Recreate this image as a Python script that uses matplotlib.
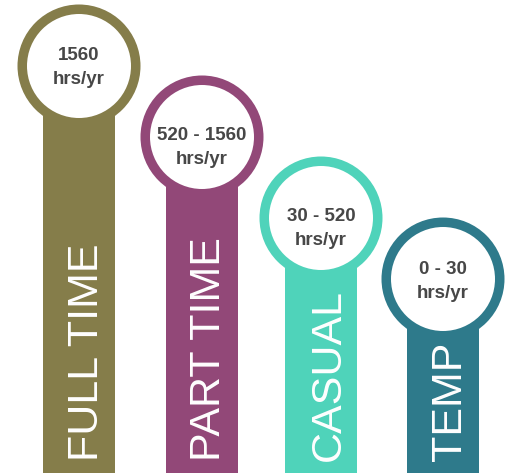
import matplotlib.pyplot as plt
from matplotlib.patches import Circle, Rectangle

# data
labels = ['FULL TIME', 'PART TIME', 'CASUAL', 'TEMP']
hours = ['1560', '520 - 1560', '30 - 520', '0 - 30']
units = ['hrs/yr', 'hrs/yr', 'hrs/yr', 'hrs/yr']
colors = ['#857d4a', '#924878', '#4fd3ba', '#2e7a8b']

# layout (pixels, y down)
W, H = 508, 473
col_x = [79, 202, 321, 443]
col_y = [66, 137, 218, 279]
text_dy = [1, 10, 10, 2]
R_OUT, R_IN, BAR_W = 61.5, 52, 72


def main():
    plt.rcParams['font.family'] = ['Liberation Sans', 'DejaVu Sans']
    fig = plt.figure(figsize=(W / 100, H / 100), dpi=100)
    ax = fig.add_axes([0, 0, 1, 1])
    ax.set_xlim(0, W)
    ax.set_ylim(H, 0)
    ax.axis('off')

    for i in range(len(labels)):
        cx, cy, c = col_x[i], col_y[i], colors[i]
        ax.add_patch(Rectangle((cx - BAR_W / 2, cy), BAR_W, H - cy + 5,
                               color=c, lw=0))
        ax.add_patch(Circle((cx, cy), R_OUT, color=c, lw=0))
        ax.add_patch(Circle((cx, cy), R_IN, color='white', lw=0))
        ty = cy + text_dy[i]
        ax.text(cx, ty - 12, hours[i], ha='center', va='center',
                fontsize=13.5, fontweight='bold', color='#474747')
        ax.text(cx, ty + 12, units[i], ha='center', va='center',
                fontsize=13.5, fontweight='bold', color='#474747')
        ax.text(cx + 18.5, 461, labels[i], rotation=90, rotation_mode='anchor',
                ha='left', va='baseline', fontsize=31, color='white')

    fig.savefig('out.png', dpi=100)


if __name__ == '__main__':
    main()
